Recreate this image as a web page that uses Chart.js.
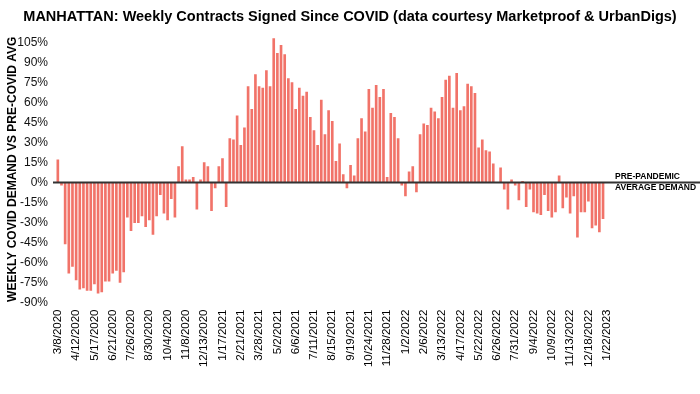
<!DOCTYPE html>
<html>
<head>
<meta charset="utf-8">
<script src="https://cdn.jsdelivr.net/npm/chart.js@4"></script>
<style>
  html, body { margin: 0; padding: 0; background: #fff; }
  #wrap { width: 700px; height: 394px; position: relative; }
</style>
</head>
<body>
<div id="wrap"><canvas id="contractsChart"></canvas></div>
<script>
// tick labels shown on the x axis (every 5th week)
const tickLabels = ['3/8/2020', '4/12/2020', '5/17/2020', '6/21/2020', '7/26/2020', '8/30/2020',
    '10/4/2020', '11/8/2020', '12/13/2020', '1/17/2021', '2/21/2021', '3/28/2021', '5/2/2021',
    '6/6/2021', '7/11/2021', '8/15/2021', '9/19/2021', '10/24/2021', '11/28/2021', '1/2/2022',
    '2/6/2022', '3/13/2022', '4/17/2022', '5/22/2022', '6/26/2022', '7/31/2022', '9/4/2022',
    '10/9/2022', '11/13/2022', '12/18/2022', '1/22/2023'];

// weekly contracts vs pre-covid average, %
const weeklyDemand = [
    17, -2, -46, -68, -63, -73, -80, -79, -81, -81,
    -76, -83, -82, -74, -74, -68, -66, -75, -67, -26,
    -36, -30, -30, -25, -33, -28, -39, -25, -9, -23,
    -28, -12, -26, 12, 27, 2, 2, 4, -20, 2,
    15, 12, -21, -4, 12, 18, -18, 33, 32, 50,
    28, 41, 72, 55, 81, 72, 71, 84, 72, 108,
    97, 103, 96, 78, 75, 55, 71, 65, 68, 49,
    39, 28, 62, 36, 54, 46, 16, 29, 6, -4,
    13, 5, 33, 48, 38, 70, 56, 73, 64, 70,
    4, 52, 49, 33, -2, -10, 8, 12, -7, 36,
    44, 43, 56, 53, 48, 64, 77, 80, 56, 82,
    54, 57, 74, 72, 67, 26, 32, 24, 23, 14,
    0, 11, -5, -20, 2, -2, -13, 1, -18, -5,
    -22, -23, -24, -9, -21, -26, -22, 5, -19, -11,
    -23, -10, -41, -22, -22, -14, -34, -32, -37, -27
];

const yTicks = [-90, -75, -60, -45, -30, -15, 0, 15, 30, 45, 60, 75, 90, 105];

const TOTAL_SLOTS = 176; // the axis runs on past the last week
const labels = [];
for (let i = 0; i < TOTAL_SLOTS; i++) {
    labels.push(i % 5 === 0 && tickLabels[i / 5] ? tickLabels[i / 5] : '');
}

const FONT = "'Liberation Sans', Arial, sans-serif";

// thick line at 0% + the "pre-pandemic" note
const baselinePlugin = {
    id: 'baseline',
    afterDatasetsDraw(chart) {
        const { ctx, chartArea, scales } = chart;
        const y0 = scales.y.getPixelForValue(0);
        ctx.save();
        ctx.strokeStyle = '#333';
        ctx.lineWidth = 2;
        ctx.beginPath();
        ctx.moveTo(chartArea.left - 3, y0);
        ctx.lineTo(chartArea.right, y0);
        ctx.stroke();

        ctx.fillStyle = '#000';
        ctx.font = 'bold 8.5px ' + FONT;
        ctx.textAlign = 'left';
        ctx.textBaseline = 'middle';
        ctx.fillText('PRE-PANDEMIC', chartArea.right - 85, y0 - 6);
        ctx.fillText('AVERAGE DEMAND', chartArea.right - 85, y0 + 5);
        ctx.restore();
    }
};

const ctx = document.getElementById('contractsChart').getContext('2d');
const contractsChart = new Chart(ctx, {
    type: 'bar',
    data: {
        labels: labels,
        datasets: [{
            data: weeklyDemand,
            backgroundColor: 'rgba(238, 80, 68, 0.8)',
            barThickness: 2
        }]
    },
    options: {
        responsive: true,
        maintainAspectRatio: false,
        animation: false,
        layout: { padding: 0 },
        plugins: {
            legend: { display: false },
            tooltip: { enabled: false },
            title: {
                display: true,
                text: 'MANHATTAN: Weekly Contracts Signed Since COVID (data courtesy Marketproof & UrbanDigs)',
                color: '#000',
                font: { family: FONT, size: 14.5, weight: 'bold' },
                padding: { top: 8, bottom: 10.6 }
            }
        },
        scales: {
            x: {
                grid: { display: false, drawTicks: false },
                border: { display: false },
                ticks: {
                    autoSkip: false,
                    minRotation: 90,
                    maxRotation: 90,
                    padding: 7,
                    color: '#000',
                    font: { family: FONT, size: 11.5 }
                },
                afterFit(scale) {
                    scale.height = 91.5;
                    scale.paddingLeft = 0;
                    scale.paddingRight = 0;
                }
            },
            y: {
                min: -90,
                max: 110,
                grid: { display: false, drawTicks: false },
                border: { display: false },
                afterBuildTicks(scale) {
                    scale.ticks = yTicks.map(v => ({ value: v }));
                },
                ticks: {
                    padding: 8,
                    color: '#111',
                    font: { family: FONT, size: 12 },
                    callback: v => v + '%'
                },
                title: {
                    display: true,
                    text: 'WEEKLY COVID DEMAND VS PRE-COVID AVG',
                    color: '#000',
                    font: { family: FONT, size: 12, weight: 'bold' },
                    padding: { top: 5, bottom: 0 }
                },
                afterFit(scale) { scale.width = 56; }
            }
        }
    },
    plugins: [baselinePlugin]
});
</script>
</body>
</html>
